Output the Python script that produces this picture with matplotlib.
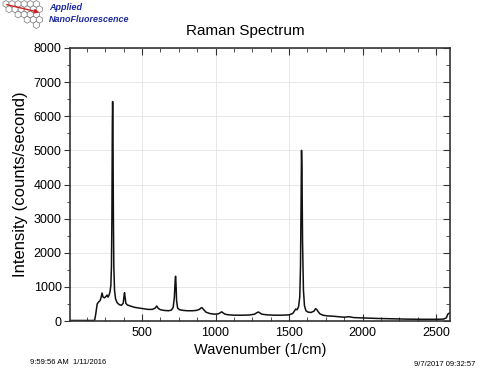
import matplotlib
matplotlib.use("Agg")
import matplotlib.pyplot as plt
from matplotlib.patches import RegularPolygon, FancyArrowPatch
from matplotlib.ticker import MultipleLocator
import numpy as np

plt.rcParams['font.family'] = ['Liberation Sans', 'DejaVu Sans']

wavenumber = [10, 100, 170, 178, 185, 195, 205, 215, 222, 228, 235, 245, 255, 262, 268, 275, 282, 288,
              292, 295, 298, 300, 302, 305, 308, 313, 320, 330, 345, 360, 372, 378, 381, 384, 390, 400,
              420, 450, 480, 510, 540, 570, 590, 600, 610, 625, 650, 680, 700, 712, 720, 725, 728, 731,
              735, 742, 755, 780, 810, 840, 870, 890, 900, 908, 918, 935, 960, 990, 1020, 1035, 1042,
              1050, 1065, 1090, 1130, 1180, 1230, 1265, 1280, 1291, 1300, 1315, 1350, 1400, 1450, 1500,
              1525, 1538, 1545, 1555, 1565, 1573, 1578, 1582, 1585, 1588, 1592, 1598, 1605, 1615, 1630,
              1650, 1670, 1680, 1688, 1697, 1710, 1730, 1760, 1800, 1850, 1880, 1900, 1915, 1940, 2000,
              2100, 2200, 2300, 2400, 2500, 2550, 2570, 2580, 2590, 2595]
intensity = [15, 15, 15, 30, 200, 500, 560, 600, 700, 820, 700, 680, 720, 760, 700, 750, 850, 1050,
             1600, 3000, 5800, 6430, 5800, 3200, 1600, 900, 650, 540, 480, 460, 520, 750, 830, 720, 520, 470,
             440, 400, 380, 360, 340, 340, 380, 440, 370, 330, 310, 300, 320, 400, 700, 1150, 1310, 1100,
             600, 380, 330, 310, 300, 300, 310, 340, 380, 390, 340, 260, 220, 200, 210, 250, 270,
             240, 200, 180, 170, 170, 175, 200, 240, 265, 240, 200, 180, 170, 170, 180,
             220, 300, 350, 330, 420, 700, 1600, 3500, 5000, 4400, 2300, 900, 450, 300, 260,
             250, 290, 360, 340, 280, 210, 170, 150, 140, 120, 110, 125, 120, 100, 90,
             75, 65, 55, 50, 50, 55, 90, 200, 230, 240]

x_ticks = [500, 1000, 1500, 2000, 2500]
y_ticks = [0, 1000, 2000, 3000, 4000, 5000, 6000, 7000, 8000]

W, H = 490, 375
fig = plt.figure(figsize=(W / 100, H / 100), dpi=100)
ax = fig.add_axes([70 / W, 1 - 321 / H, (450 - 70) / W, (321 - 48) / H])

ax.plot(wavenumber, intensity, color='#111111', lw=1.1)
ax.set_xlim(10, 2595)
ax.set_ylim(0, 8000)
ax.set_xticks(x_ticks)
ax.set_yticks(y_ticks)
ax.xaxis.set_minor_locator(MultipleLocator(125))
ax.yaxis.set_minor_locator(MultipleLocator(500))
ax.grid(True, which='major', color='#e8e8e8', lw=0.7)
ax.set_axisbelow(True)
for s in ax.spines.values():
    s.set_color('#333333')
    s.set_linewidth(1.2)
ax.tick_params(axis='x', which='both', direction='in', top=True, labelsize=9, color='#333333', pad=4)
ax.tick_params(axis='x', which='major', length=5)
ax.tick_params(axis='x', which='minor', length=3)
ax.tick_params(axis='y', which='both', direction='out', right=False, labelsize=9, color='#333333', pad=2)
ax.tick_params(axis='y', which='major', length=4)
ax.tick_params(axis='y', which='minor', length=2.5)

# right-side inward ticks
axr = ax.twinx()
axr.set_ylim(0, 8000)
axr.set_yticks(y_ticks)
axr.yaxis.set_minor_locator(MultipleLocator(500))
axr.tick_params(axis='y', which='both', direction='in', labelright=False, color='#333333')
axr.tick_params(axis='y', which='major', length=5)
axr.tick_params(axis='y', which='minor', length=3)
for s in axr.spines.values():
    s.set_visible(False)

ax.set_xlabel('Wavenumber (1/cm)', fontsize=10.5, labelpad=3)
ax.set_ylabel('Intensity (counts/second)', fontsize=12, labelpad=4)
fig.text(0.5, 1 - 31 / H, 'Raman Spectrum', ha='center', va='center', fontsize=11)

fig.text(30 / W, 1 - 362 / H, '9:59:56 AM  1/11/2016', fontsize=5.5, ha='left', va='center')
fig.text(475 / W, 1 - 365 / H, '9/7/2017 09:32:57', fontsize=5.5, ha='right', va='center')

# logo
lax = fig.add_axes([0, 1 - 32 / H, 160 / W, 32 / H])
lax.set_xlim(0, 160)
lax.set_ylim(32, 0)
lax.axis('off')
r = 3.5
dx = r * np.sqrt(3)
rows = [(6, 0.0), (6, 0.5), (4, 2.0), (3, 3.5), (1, 5.0)]
for j, (n, off) in enumerate(rows):
    for i in range(n):
        cx = 6 + (i + off) * dx
        cy = 4 + j * r * 1.5
        lax.add_patch(RegularPolygon((cx, cy), 6, radius=r, orientation=0,
                                     facecolor='white', edgecolor='#777777', lw=0.5))
lax.add_patch(FancyArrowPatch((4, 4), (42, 13), arrowstyle='-|>', mutation_scale=6,
                              color='#d02020', lw=1.0))
lax.text(49, 8, 'Applied', color='#1c2a9c', fontsize=6.5, fontweight='bold', style='italic', va='center')
lax.text(49, 19, 'NanoFluorescence', color='#1c2a9c', fontsize=6.5, fontweight='bold', style='italic', va='center')

fig.savefig('out.png', dpi=100)
